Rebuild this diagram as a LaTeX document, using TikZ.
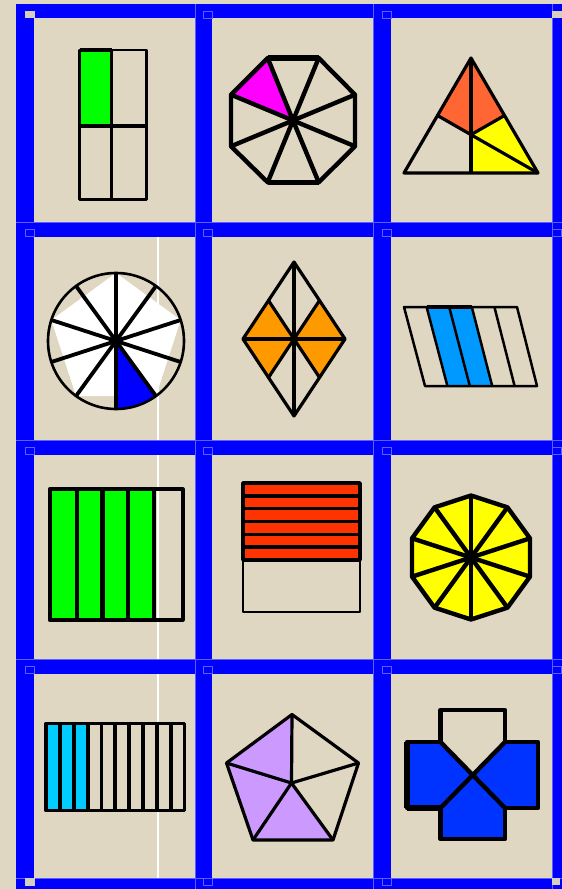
\documentclass[tikz,border=0pt]{standalone}
\usepackage{xcolor}
\definecolor{bg}{RGB}{224,215,195}
\definecolor{corner}{RGB}{214,206,190}
\definecolor{frameblue}{RGB}{0,0,255}
\definecolor{faint}{RGB}{95,95,255}
\definecolor{fgreen}{RGB}{0,255,0}
\definecolor{fmagenta}{RGB}{255,0,255}
\definecolor{forange}{RGB}{255,102,51}
\definecolor{fyellow}{RGB}{255,255,0}
\definecolor{fsector}{RGB}{0,0,255}
\definecolor{frhomb}{RGB}{255,153,0}
\definecolor{fsky}{RGB}{0,153,255}
\definecolor{fred}{RGB}{255,51,0}
\definecolor{fcyan}{RGB}{0,204,255}
\definecolor{flav}{RGB}{204,153,255}
\definecolor{fcross}{RGB}{0,51,255}
\tikzset{
  thin shape/.style={draw=black, line width=2.5},
  mid shape/.style={draw=black, line width=3.2},
  thick shape/.style={draw=black, line width=4.4},
  handle/.style={draw=faint, line width=0.6},
  cornerhandle/.style={fill=corner},
}
\begin{document}
\begin{tikzpicture}[x=1pt,y=-1pt,line join=round]
\useasboundingbox (0,0) rectangle (562,889);
% background and frame
\fill[bg] (0,0) rectangle (562,889);
\fill[frameblue] (16,4) rectangle (562,889);
\foreach \xx in {195,373,552} \draw[faint,line width=0.6] (\xx,4) -- (\xx,889);
\foreach \yy in {222,440,659,878} \draw[faint,line width=0.6] (16,\yy) -- (562,\yy);
\foreach \xa/\xb in {34/195,212/373,391/552}
  \foreach \ya/\yb in {18/222,237/440,455/659,674/878}
    \fill[bg] (\xa,\ya) rectangle (\xb,\yb);
% white guide line in column 1
\foreach \ya/\yb in {237/440,455/659,674/878}
  \fill[white] (156.5,\ya) rectangle (158.5,\yb);
% handles
\foreach \hx in {25,203,382}
  \foreach \hy in {229,447,666}
    \draw[handle] (\hx,\hy) rectangle ++(9,7);
\foreach \hx in {203,382}
  \foreach \hy in {11,878}
    \draw[handle] (\hx,\hy) rectangle ++(9,7);
\foreach \hy in {229,447,666}
  \draw[handle] (552,\hy) rectangle ++(9,7);
\fill[cornerhandle] (25,11) rectangle (35,18);
\fill[cornerhandle] (552,11) rectangle (562,18);
\fill[cornerhandle] (25,878) rectangle (35,886);
\fill[cornerhandle] (552,878) rectangle (560,885);

% ---- Row 1, col 1: rectangle in quarters
\fill[fgreen] (79.5,50) rectangle (111.5,126);
\draw[thin shape] (79.5,50) rectangle (146.5,199.5);
\draw[thin shape] (111.5,50) -- (111.5,199.5);
\draw[mid shape] (79.5,126) -- (146.5,126);
\draw[mid shape] (79.5,50) -- (111.5,50);

% ---- Row 1, col 2: octagon
\coordinate (oc) at (293,120.5);
\fill[fmagenta] (267.7,58) -- (231,94.7) -- (oc) -- cycle;
\draw[thick shape] (267.7,58) -- (318.7,58) -- (355,94.7) -- (355,146.3) -- (318.7,182.3) -- (267.7,182.3) -- (231,146.3) -- (231,94.7) -- cycle;
\draw[line width=5.5] (267.7,58) -- (318.7,58);
\draw[line width=5.5] (267.7,182.3) -- (318.7,182.3);
\foreach \px/\py in {267.7/58,318.7/58,355/94.7,355/146.3,318.7/182.3,267.7/182.3,231/146.3,231/94.7}
  \draw[thick shape] (oc) -- (\px,\py);

% ---- Row 1, col 3: triangle
\coordinate (tA) at (471,58);
\coordinate (tBL) at (404,173);
\coordinate (tBR) at (538,173);
\coordinate (tLM) at (437.5,115.5);
\coordinate (tRM) at (504.5,115.5);
\coordinate (tBM) at (471,173);
\coordinate (tG) at (471,134.7);
\fill[forange] (tA) -- (tLM) -- (tG) -- (tRM) -- cycle;
\fill[fyellow] (tG) -- (tRM) -- (tBR) -- (tBM) -- cycle;
\draw[mid shape] (tA) -- (tBR) -- (tBL) -- cycle;
\draw[mid shape] (tA) -- (tBM);
\draw[mid shape] (tLM) -- (tG) -- (tRM);
\draw[mid shape] (tG) -- (tBR);

% ---- Row 2, col 1: circle with ten spokes
\begin{scope}[shift={(116,341)}]
  \fill[white] (-90:68) -- (-18:68) -- (54:68) -- (126:68) -- (198:68) -- cycle;
  \fill[fsector] (0,0) -- (54:68) arc[start angle=54,end angle=90,radius=68] -- cycle;
  \foreach \a in {-90,-54,-18,18,54,90,126,162,198,234}
    \draw[line width=3.8] (0,0) -- (\a:68);
  \draw[line width=2.6] (0,0) circle[radius=68];
\end{scope}

% ---- Row 2, col 2: rhombus
\coordinate (rT) at (294,262);
\coordinate (rB) at (294,416);
\coordinate (rL) at (243,339);
\coordinate (rR) at (345,339);
\coordinate (rC) at (294,339);
\coordinate (rUL) at (268.5,300.5);
\coordinate (rUR) at (319.5,300.5);
\coordinate (rLL) at (268.5,377.5);
\coordinate (rLR) at (319.5,377.5);
\fill[frhomb] (rL) -- (rUL) -- (rC) -- cycle;
\fill[frhomb] (rC) -- (rUR) -- (rR) -- cycle;
\fill[frhomb] (rL) -- (rC) -- (rLL) -- cycle;
\fill[frhomb] (rC) -- (rR) -- (rLR) -- cycle;
\draw[mid shape] (rT) -- (rR) -- (rB) -- (rL) -- cycle;
\draw[mid shape] (rT) -- (rB);
\draw[mid shape] (rL) -- (rR);
\draw[mid shape] (rUL) -- (rLR);
\draw[mid shape] (rUR) -- (rLL);

% ---- Row 2, col 3: parallelogram in five strips
\fill[fsky] (426.6,307) -- (471.8,307) -- (492.2,386) -- (447.4,386) -- cycle;
\draw[thin shape] (404,307) -- (517,307) -- (537,386) -- (425,386) -- cycle;
\foreach \k in {1,2,3,4}
  \draw[thin shape] ({404+22.6*\k},307) -- ({425+22.4*\k},386);
\draw[mid shape] (426.6,307) -- (471.8,307);

% ---- Row 3, col 1: rectangle in five strips
\fill[fgreen] (50,489) rectangle (154,620);
\draw[mid shape] (154,489) -- (183,489) -- (183,620) -- (154,620);
\draw[thick shape] (50,489) rectangle (154,620);
\foreach \xx in {77,102.5,128}
  \draw[thick shape] (\xx,489) -- (\xx,620);

% ---- Row 3, col 2: stripes
\draw[thin shape] (243,483) rectangle (360,612);
\foreach \k in {0,...,5}
  \filldraw[fill=fred, draw=black, line width=3.4] (243,{483+12.83*\k}) rectangle (360,{483+12.83*(\k+1)});

% ---- Row 3, col 3: decagon
\begin{scope}[shift={(471,557.5)}]
  \filldraw[fill=fyellow, thick shape] (-90:62) -- (-54:62) -- (-18:62) -- (18:62) -- (54:62) -- (90:62) -- (126:62) -- (162:62) -- (198:62) -- (234:62) -- cycle;
  \foreach \a in {-90,-54,-18,18,54,90,126,162,198,234}
    \draw[thick shape] (0,0) -- (\a:62);
\end{scope}

% ---- Row 4, col 1: ten strips
\fill[fcyan] (46,723.5) rectangle ({46+13.87*3},810.5);
\draw[mid shape] (46,723.5) rectangle (184.7,810.5);
\foreach \k in {1,...,9}
  \draw[line width=3.8] ({46+13.87*\k},723.5) -- ({46+13.87*\k},810.5);

% ---- Row 4, col 2: pentagon
\coordinate (pT) at (292,714.5);
\coordinate (pR) at (358.5,763);
\coordinate (pBR) at (333,840);
\coordinate (pBL) at (253,840);
\coordinate (pL) at (226.5,763);
\coordinate (pC) at (291.5,783);
\fill[flav] (pT) -- (pL) -- (pBL) -- (pBR) -- (pC) -- cycle;
\draw[mid shape] (pT) -- (pR) -- (pBR) -- (pBL) -- (pL) -- cycle;
\foreach \p in {pT,pR,pBR,pBL,pL}
  \draw[mid shape] (pC) -- (\p);

% ---- Row 4, col 3: cross
\coordinate (cM) at (472.75,775);
\fill[fcross] (407,742) -- (440.5,742) -- (cM) -- (505,742) -- (538,742) -- (538,808) -- (505,808) -- (505,839) -- (440.5,839) -- (440.5,808) -- (407,808) -- cycle;
\draw[thick shape] (407,742) -- (440.5,742) -- (440.5,710) -- (505,710) -- (505,742) -- (538,742) -- (538,808) -- (505,808) -- (505,839) -- (440.5,839) -- (440.5,808) -- (407,808) -- cycle;
\draw[thick shape] (440.5,742) -- (505,808);
\draw[thick shape] (505,742) -- (440.5,808);
\draw[line width=5.5] (407,742) -- (407,808);
\draw[line width=5.5] (407,808) -- (440.5,808);
\end{tikzpicture}
\end{document}
